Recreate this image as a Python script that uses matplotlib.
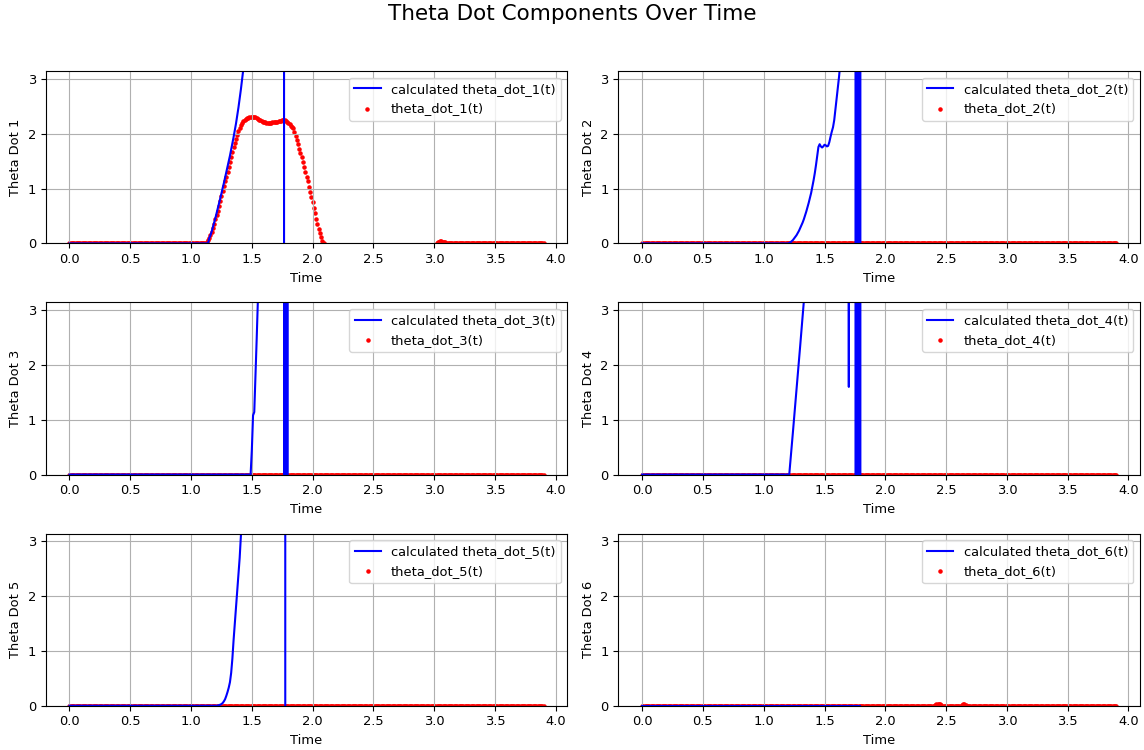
import numpy as np
import matplotlib
matplotlib.use("Agg")
import matplotlib.pyplot as plt

plt.rcParams["font.size"] = 9.4

# time axis, 0.00 .. 3.90 s
t = np.round(np.arange(391) * 0.01, 2)

OFF_HI = 1000.0   # values far above the plotted range
OFF_LO = -1000.0  # values far below the plotted range

# measured theta_dot_1, from t=1.10 to t=2.09
theta1_hump = [0.00, 0.00, 0.01, 0.03, 0.06, 0.10, 0.15, 0.21, 0.28, 0.36,
               0.44, 0.52, 0.60, 0.68, 0.77, 0.86, 0.95, 1.04, 1.13, 1.22,
               1.31, 1.40, 1.49, 1.58, 1.66, 1.75, 1.83, 1.91, 1.98, 2.05,
               2.11, 2.16, 2.20, 2.23, 2.25, 2.27, 2.28, 2.29, 2.30, 2.31,
               2.31, 2.31, 2.30, 2.30, 2.29, 2.27, 2.26, 2.25, 2.23, 2.22,
               2.21, 2.21, 2.20, 2.20, 2.20, 2.20, 2.20, 2.21, 2.21, 2.22,
               2.22, 2.22, 2.23, 2.23, 2.24, 2.25, 2.25, 2.25, 2.24, 2.22,
               2.20, 2.18, 2.15, 2.13, 2.10, 2.03, 1.96, 1.89, 1.81, 1.73,
               1.65, 1.57, 1.49, 1.40, 1.31, 1.22, 1.13, 1.03, 0.94, 0.85,
               0.75, 0.65, 0.55, 0.45, 0.36, 0.27, 0.19, 0.11, 0.04, 0.00]
theta1_bump = [0.01, 0.02, 0.03, 0.04, 0.04, 0.03, 0.03, 0.02, 0.01, 0.00,
               0.00, 0.00, 0.00, 0.00, 0.00, 0.00, 0.00]  # t=3.02 .. 3.18
theta6_bump1 = [0.01, 0.03, 0.04, 0.04, 0.03, 0.01]  # t=2.41 .. 2.46
theta6_bump2 = [0.02, 0.04, 0.04, 0.02]              # t=2.63 .. 2.66

# calculated rises (before they leave the plotted range)
calc1_rise = [0.10, 0.15, 0.22, 0.30, 0.38, 0.46, 0.55, 0.64, 0.73, 0.82,
              0.91, 1.01, 1.10, 1.20, 1.30, 1.40, 1.50, 1.60, 1.71, 1.82,
              1.94, 2.06, 2.19, 2.33, 2.48, 2.64, 2.81, 2.99, 3.18, 3.39]  # from 1.15
calc2_rise = [0.00, 0.01, 0.02, 0.04, 0.06, 0.09, 0.12, 0.15, 0.19, 0.23,
              0.28, 0.33, 0.38, 0.44, 0.51, 0.58, 0.66, 0.74, 0.83, 0.92,
              1.03, 1.15, 1.28, 1.43, 1.60, 1.76, 1.81, 1.77, 1.75, 1.77,
              1.80, 1.79, 1.77, 1.78, 1.85, 1.95, 2.04, 2.12, 2.25, 2.45,
              2.65, 2.85, 3.05, 3.30]  # from 1.20
calc3_rise = [0.00, 0.45, 1.08, 1.14, 1.80, 2.48, 3.20]  # from 1.49
calc4_rise = [0.00, 0.25, 0.51, 0.77, 1.03, 1.29, 1.55, 1.82, 2.08, 2.35,
              2.62, 2.89, 3.16]  # from 1.21
calc4_dip = 1.60  # at t=1.70
calc5_rise = [0.00, 0.005, 0.01, 0.02, 0.03, 0.05, 0.08, 0.12, 0.18, 0.25,
              0.33, 0.43, 0.60, 0.86, 1.20, 1.50, 1.80, 2.10, 2.40, 2.70,
              3.10, 3.50]  # from 1.21

ylabels = ["Theta Dot %d" % (i + 1) for i in range(6)]


def idx(time):
    return int(round(time * 100))


def put(arr, start, values):
    arr[idx(start):idx(start) + len(values)] = values


# measured series
meas = [np.zeros(len(t)) for _ in range(6)]
put(meas[0], 1.10, theta1_hump)
meas[0][idx(2.10):idx(3.02)] = np.nan
put(meas[0], 3.02, theta1_bump)
put(meas[5], 2.41, theta6_bump1)
put(meas[5], 2.63, theta6_bump2)

# calculated series
calc = [np.zeros(len(t)) for _ in range(6)]

c = calc[0]
put(c, 1.15, calc1_rise)
c[idx(1.45):idx(1.77)] = OFF_HI
c[idx(1.77)] = OFF_LO
c[idx(1.78):] = np.nan

c = calc[1]
put(c, 1.20, calc2_rise)
c[idx(1.64):idx(1.76)] = OFF_HI
c[idx(1.76):idx(1.80) + 1] = [OFF_LO, OFF_HI, OFF_LO, OFF_HI, OFF_LO]
c[idx(1.81):] = np.nan

c = calc[2]
put(c, 1.49, calc3_rise)
c[idx(1.56):idx(1.77)] = OFF_HI
c[idx(1.77):idx(1.80) + 1] = [OFF_LO, OFF_HI, OFF_LO, OFF_HI]
c[idx(1.81):] = np.nan

c = calc[3]
put(c, 1.21, calc4_rise)
c[idx(1.34):idx(1.76)] = OFF_HI
c[idx(1.70)] = calc4_dip
c[idx(1.76):idx(1.80) + 1] = [OFF_LO, OFF_HI, OFF_LO, OFF_HI, OFF_LO]
c[idx(1.81):] = np.nan

c = calc[4]
put(c, 1.21, calc5_rise)
c[idx(1.43):idx(1.78)] = OFF_HI
c[idx(1.78)] = OFF_LO
c[idx(1.79):] = np.nan

c = calc[5]
c[idx(1.80):] = np.nan

fig, axes = plt.subplots(3, 2, figsize=(11.44, 7.5), dpi=100)
fig.subplots_adjust(left=0.040, right=0.9965, top=0.905, bottom=0.059,
                    hspace=0.343, wspace=0.098)

for i, ax in enumerate(axes.flat):
    ax.plot(t, calc[i], color="blue", label="calculated theta_dot_%d(t)" % (i + 1))
    ax.scatter(t, meas[i], color="red", s=5, label="theta_dot_%d(t)" % (i + 1))
    ax.set_ylim(0, np.pi)
    ax.set_xlabel("Time")
    ax.set_ylabel(ylabels[i])
    ax.grid(True)
    ax.legend(loc="upper right")

fig.suptitle("Theta Dot Components Over Time", fontsize=15.5, y=0.995, va="top")
fig.savefig("out.png", dpi=100)
